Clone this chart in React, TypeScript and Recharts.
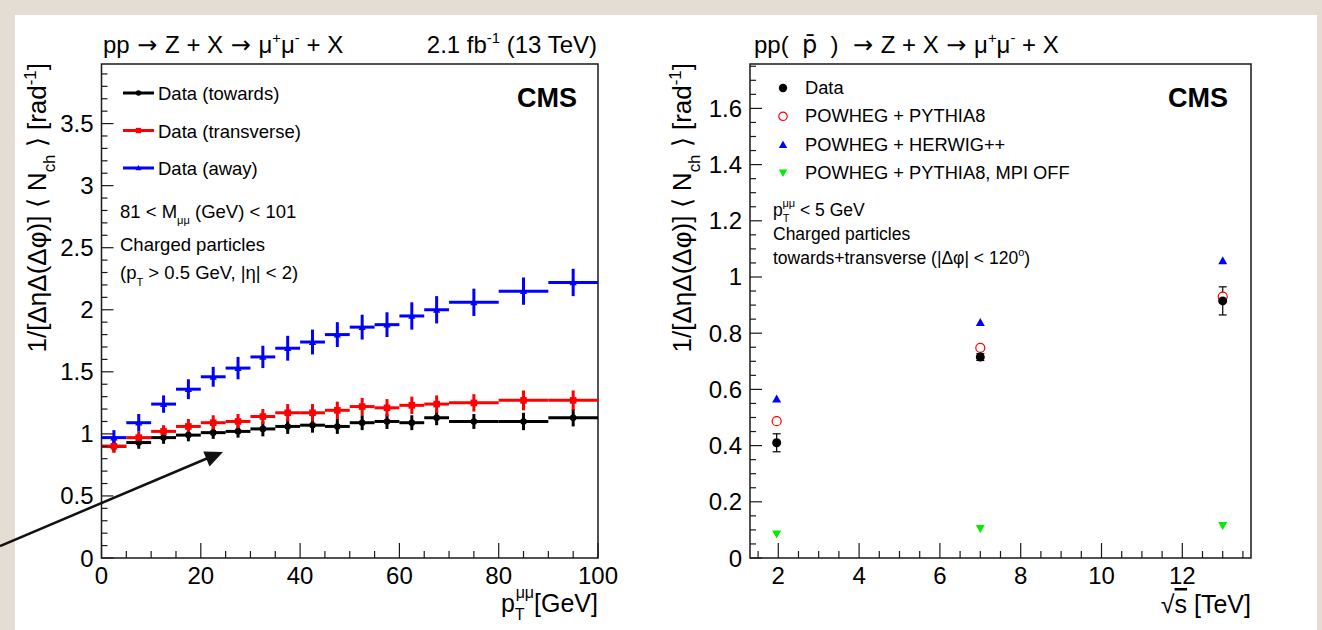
import React from "react";
import { ScatterChart, Scatter, XAxis, YAxis, ErrorBar, ReferenceArea, Legend } from "recharts";

const FONT = '"Liberation Sans", Arial, Helvetica, sans-serif';
const BEIGE = "#e4ddd3";
const AXIS = "#1a1a1a";
const BLACK = "#000000";
const RED = "#ff0000";
const BLUE = "#0000ff";
const GREEN = "#00ee00";

// left panel: <N_ch> density vs pT(mumu), bins of 5 GeV then 10 GeV
const PT_CENTER = [2.5, 7.5, 12.5, 17.5, 22.5, 27.5, 32.5, 37.5, 42.5, 47.5, 52.5, 57.5, 62.5, 67.5, 75, 85, 95];
const PT_HALF = [2.5, 2.5, 2.5, 2.5, 2.5, 2.5, 2.5, 2.5, 2.5, 2.5, 2.5, 2.5, 2.5, 2.5, 5, 5, 5];
const TOWARDS = [0.9, 0.93, 0.97, 0.99, 1.01, 1.02, 1.04, 1.06, 1.07, 1.06, 1.09, 1.1, 1.09, 1.13, 1.1, 1.1, 1.13];
const TOWARDS_ERR = [0.05, 0.05, 0.05, 0.05, 0.05, 0.05, 0.06, 0.06, 0.06, 0.06, 0.06, 0.06, 0.06, 0.06, 0.06, 0.07, 0.07];
const TRANSVERSE = [0.9, 0.97, 1.02, 1.06, 1.09, 1.1, 1.14, 1.17, 1.17, 1.19, 1.22, 1.21, 1.23, 1.24, 1.25, 1.27, 1.27];
const TRANSVERSE_ERR = [0.05, 0.05, 0.05, 0.06, 0.06, 0.06, 0.06, 0.07, 0.07, 0.07, 0.07, 0.07, 0.07, 0.07, 0.07, 0.08, 0.08];
const AWAY = [0.97, 1.09, 1.24, 1.36, 1.46, 1.53, 1.62, 1.69, 1.74, 1.8, 1.86, 1.88, 1.95, 2.0, 2.06, 2.15, 2.22];
const AWAY_ERR = [0.06, 0.07, 0.07, 0.08, 0.08, 0.09, 0.09, 0.1, 0.1, 0.1, 0.1, 0.1, 0.11, 0.11, 0.11, 0.11, 0.11];

// right panel: vs sqrt(s)
const SQRT_S = [1.96, 7, 13];
const DATA = [0.41, 0.715, 0.915];
const DATA_ERR = [0.032, 0.012, 0.05];
const POWHEG_PY8 = [0.487, 0.748, 0.93];
const POWHEG_HW = [0.566, 0.838, 1.058];
const POWHEG_PY8_NOMPI = [0.085, 0.105, 0.115];

// axes
const LEFT_X_MAJOR = [0, 20, 40, 60, 80, 100];
const LEFT_Y_MAJOR = [0, 0.5, 1, 1.5, 2, 2.5, 3, 3.5];
const RIGHT_X_MAJOR = [2, 4, 6, 8, 10, 12];
const RIGHT_Y_MAJOR = [0, 0.2, 0.4, 0.6, 0.8, 1, 1.2, 1.4, 1.6];

const steps = (from: number, to: number, step: number) => {
  const out: number[] = [];
  for (let v = from; v <= to + 1e-9; v += step) out.push(Math.round(v * 1000) / 1000);
  return out;
};
const LEFT_X_TICKS = steps(0, 100, 5);
const LEFT_Y_TICKS = steps(0, 3.9, 0.1);
const RIGHT_X_TICKS = steps(1.5, 13.5, 0.5);
const RIGHT_Y_TICKS = steps(0, 1.75, 0.05);

const isMajor = (majors: number[], v: number) => majors.some((m) => Math.abs(m - v) < 1e-6);

const xTick = (majors: number[]) => (p: any) => {
  const v = p.payload.value;
  const maj = isMajor(majors, v);
  return (
    <g>
      <line x1={p.x} x2={p.x} y1={p.y} y2={p.y - (maj ? 15 : 7)} stroke={AXIS} strokeWidth={1.2} />
      {maj && (
        <text x={p.x} y={p.y + 26} textAnchor="middle" fontSize={24} fontFamily={FONT} fill="#000">
          {String(v)}
        </text>
      )}
    </g>
  );
};

const yTick = (majors: number[]) => (p: any) => {
  const v = p.payload.value;
  const maj = isMajor(majors, v);
  return (
    <g>
      <line x1={p.x} x2={p.x + (maj ? 12 : 6)} y1={p.y} y2={p.y} stroke={AXIS} strokeWidth={1.2} />
      {maj && (
        <text x={p.x - 8} y={p.y + 8.5} textAnchor="end" fontSize={24} fontFamily={FONT} fill="#000">
          {String(v)}
        </text>
      )}
    </g>
  );
};

function marker(kind: string, cx: number, cy: number, color: string, s: number) {
  if (kind === "circle") return <circle cx={cx} cy={cy} r={s} fill={color} />;
  if (kind === "open") return <circle cx={cx} cy={cy} r={s} fill="#fff" stroke={color} strokeWidth={1.2} />;
  if (kind === "square") return <rect x={cx - s} y={cy - s} width={2 * s} height={2 * s} fill={color} />;
  if (kind === "triangle")
    return <polygon points={`${cx - s},${cy + s * 0.8} ${cx + s},${cy + s * 0.8} ${cx},${cy - s}`} fill={color} />;
  return <polygon points={`${cx - s},${cy - s * 0.8} ${cx + s},${cy - s * 0.8} ${cx},${cy + s}`} fill={color} />;
}

const shape = (kind: string, color: string, s: number) => (p: any) => marker(kind, p.cx, p.cy, color, s);

const LEFT_SERIES = [
  { label: "Data (towards)", color: BLACK, kind: "circle", size: 3.3, values: TOWARDS, errs: TOWARDS_ERR },
  { label: "Data (transverse)", color: RED, kind: "square", size: 3.3, values: TRANSVERSE, errs: TRANSVERSE_ERR },
  { label: "Data (away)", color: BLUE, kind: "triangle", size: 3.6, values: AWAY, errs: AWAY_ERR },
];

const RIGHT_SERIES = [
  { label: "Data", color: BLACK, kind: "circle", size: 4.5, values: DATA },
  { label: "POWHEG + PYTHIA8", color: RED, kind: "open", size: 4.5, values: POWHEG_PY8 },
  { label: "POWHEG + HERWIG++", color: BLUE, kind: "triangle", size: 4.5, values: POWHEG_HW },
  { label: "POWHEG + PYTHIA8, MPI OFF", color: GREEN, kind: "down", size: 4.5, values: POWHEG_PY8_NOMPI },
];

function LeftLegend() {
  return (
    <svg width={240} height={120} style={{ overflow: "visible" }}>
      {LEFT_SERIES.map((s, i) => {
        const y = 18 + i * 37.5;
        return (
          <g key={s.label}>
            <line x1={0} x2={31} y1={y} y2={y} stroke={s.color} strokeWidth={3} />
            {marker(s.kind, 15.5, y, s.color, s.size * 0.8)}
            <text x={35} y={y + 7} fontSize={18.5} fontFamily={FONT} fill="#000">
              {s.label}
            </text>
          </g>
        );
      })}
    </svg>
  );
}

function RightLegend() {
  return (
    <svg width={320} height={120} style={{ overflow: "visible" }}>
      {RIGHT_SERIES.map((s, i) => {
        const y = 18 + i * 28.3;
        return (
          <g key={s.label}>
            {marker(s.kind, 10, y, s.color, 4.2)}
            <text x={32} y={y + 6} fontSize={18.3} fontFamily={FONT} fill="#000">
              {s.label}
            </text>
          </g>
        );
      })}
    </svg>
  );
}

function LeftPanel() {
  const ymax = 3.98;
  return (
    <ScatterChart width={640} height={615} margin={{ top: 49, right: 57, bottom: 32, left: 0 }}>
      <XAxis
        type="number"
        dataKey="x"
        domain={[0, 100]}
        allowDataOverflow
        ticks={LEFT_X_TICKS}
        interval={0}
        tickSize={0}
        tickMargin={0}
        axisLine={false}
        tickLine={false}
        height={40}
        tick={xTick(LEFT_X_MAJOR)}
      />
      <YAxis
        type="number"
        dataKey="y"
        domain={[0, ymax]}
        allowDataOverflow
        ticks={LEFT_Y_TICKS}
        interval={0}
        tickSize={0}
        tickMargin={0}
        axisLine={false}
        tickLine={false}
        width={86.5}
        tick={yTick(LEFT_Y_MAJOR)}
      />
      <ReferenceArea x1={0} x2={100} y1={0} y2={ymax} fill="none" stroke={AXIS} strokeWidth={1.5} ifOverflow="visible" />
      {LEFT_SERIES.map((s) => (
        <Scatter
          key={s.label}
          name={s.label}
          data={PT_CENTER.map((x, i) => ({ x, y: s.values[i], ex: PT_HALF[i], ey: s.errs[i] }))}
          shape={shape(s.kind, s.color, s.size)}
          isAnimationActive={false}
        >
          <ErrorBar dataKey="ex" direction="x" width={0} stroke={s.color} strokeWidth={3} />
          <ErrorBar dataKey="ey" direction="y" width={0} stroke={s.color} strokeWidth={3} />
        </Scatter>
      ))}
      <Legend
        layout="vertical"
        align="center"
        verticalAlign="middle"
        content={() => <LeftLegend />}
        wrapperStyle={{ left: 108, top: 60, width: 240, height: 120 }}
      />
    </ScatterChart>
  );
}

function RightPanel() {
  const ymax = 1.758;
  return (
    <ScatterChart width={650} height={615} margin={{ top: 49, right: 59, bottom: 32, left: 0 }}>
      <XAxis
        type="number"
        dataKey="x"
        domain={[1.3, 13.7]}
        allowDataOverflow
        ticks={RIGHT_X_TICKS}
        interval={0}
        tickSize={0}
        tickMargin={0}
        axisLine={false}
        tickLine={false}
        height={40}
        tick={xTick(RIGHT_X_MAJOR)}
      />
      <YAxis
        type="number"
        dataKey="y"
        domain={[0, ymax]}
        allowDataOverflow
        ticks={RIGHT_Y_TICKS}
        interval={0}
        tickSize={0}
        tickMargin={0}
        axisLine={false}
        tickLine={false}
        width={90}
        tick={yTick(RIGHT_Y_MAJOR)}
      />
      <ReferenceArea x1={1.3} x2={13.7} y1={0} y2={ymax} fill="none" stroke={AXIS} strokeWidth={1.5} ifOverflow="visible" />
      {RIGHT_SERIES.slice(1).reverse().map((s) => (
        <Scatter
          key={s.label}
          name={s.label}
          data={SQRT_S.map((x, i) => ({ x, y: s.values[i] }))}
          shape={shape(s.kind, s.color, s.size)}
          isAnimationActive={false}
        />
      ))}
      <Scatter
        name="Data"
        data={SQRT_S.map((x, i) => ({ x, y: DATA[i], ey: DATA_ERR[i] }))}
        shape={shape("circle", BLACK, 4.5)}
        isAnimationActive={false}
      >
        <ErrorBar dataKey="ey" direction="y" width={4} stroke={BLACK} strokeWidth={1.2} />
      </Scatter>
      <Legend
        layout="vertical"
        align="center"
        verticalAlign="middle"
        content={() => <RightLegend />}
        wrapperStyle={{ left: 113, top: 55, width: 320, height: 120 }}
      />
    </ScatterChart>
  );
}

function YTitle({ x }: { x: number }) {
  const f = 26;
  return (
    <text transform={`translate(${x},63) rotate(-90)`} textAnchor="end" fontSize={f} fontFamily={FONT} fill="#000">
      <tspan>1/[ΔηΔ(Δφ)] ⟨ N</tspan>
      <tspan fontSize={f * 0.65} dy={f * 0.35}>ch</tspan>
      <tspan dy={-f * 0.35}> ⟩ [rad</tspan>
      <tspan fontSize={f * 0.65} dy={-f * 0.4}>-1</tspan>
      <tspan dy={f * 0.4}>]</tspan>
    </text>
  );
}

const Arrow = () => <tspan fontFamily='"DejaVu Sans", sans-serif'> → </tspan>;

function Overlay() {
  const t = 24;
  const a = 18.5;
  const nb = "\u00a0";
  return (
    <svg width={1322} height={630} style={{ position: "absolute", left: 0, top: 0, pointerEvents: "none" }}>
      <g fontFamily={FONT} fill="#000">
        {/* left panel headers */}
        <text x={103} y={53} fontSize={t}>
          <tspan>pp</tspan>
          <Arrow />
          <tspan>Z + X</tspan>
          <Arrow />
          <tspan>μ</tspan>
          <tspan fontSize={t * 0.62} dy={-t * 0.42}>+</tspan>
          <tspan dy={t * 0.42}>μ</tspan>
          <tspan fontSize={t * 0.62} dy={-t * 0.42}>-</tspan>
          <tspan dy={t * 0.42}> + X</tspan>
        </text>
        <text x={597} y={53} fontSize={t} textAnchor="end">
          <tspan>2.1 fb</tspan>
          <tspan fontSize={t * 0.62} dy={-t * 0.42}>-1</tspan>
          <tspan dy={t * 0.42}> (13 TeV)</tspan>
        </text>
        <text x={577} y={107} fontSize={27} fontWeight="bold" textAnchor="end">CMS</text>
        <text x={120} y={218} fontSize={a}>
          <tspan>81 &lt; M</tspan>
          <tspan fontSize={a * 0.6} dy={a * 0.3}>μμ</tspan>
          <tspan dy={-a * 0.3}> (GeV) &lt; 101</tspan>
        </text>
        <text x={120} y={251} fontSize={a}>Charged particles</text>
        <text x={120} y={279} fontSize={a}>
          <tspan>(p</tspan>
          <tspan fontSize={a * 0.6} dy={a * 0.4}>T</tspan>
          <tspan dy={-a * 0.4}> &gt; 0.5 GeV, |η| &lt; 2)</tspan>
        </text>
        <YTitle x={46} />
        <text x={598} y={612} fontSize={25} textAnchor="end">
          <tspan>p</tspan>
          <tspan fontSize={16} dy={8}>T</tspan>
          <tspan fontSize={16} dx={-9} dy={-22}>μμ</tspan>
          <tspan dy={14}>[GeV]</tspan>
        </text>

        {/* right panel headers */}
        <text x={754} y={53} fontSize={t}>
          <tspan>{`pp(${nb}${nb}`}</tspan>
          <tspan fontFamily='"DejaVu Sans", sans-serif'>{"p\u0304"}</tspan>
          <tspan>{`${nb}${nb})${nb}`}</tspan>
          <Arrow />
          <tspan>Z + X</tspan>
          <Arrow />
          <tspan>μ</tspan>
          <tspan fontSize={t * 0.62} dy={-t * 0.42}>+</tspan>
          <tspan dy={t * 0.42}>μ</tspan>
          <tspan fontSize={t * 0.62} dy={-t * 0.42}>-</tspan>
          <tspan dy={t * 0.42}> + X</tspan>
        </text>
        <text x={1228} y={107} fontSize={27} fontWeight="bold" textAnchor="end">CMS</text>
        <text x={773} y={216} fontSize={17.5}>
          <tspan>p</tspan>
          <tspan fontSize={11} dy={6}>T</tspan>
          <tspan fontSize={11} dx={-7} dy={-15}>μμ</tspan>
          <tspan dy={9}> &lt; 5 GeV</tspan>
        </text>
        <text x={773} y={240} fontSize={17.5}>Charged particles</text>
        <text x={773} y={264} fontSize={17.5}>
          <tspan>towards+transverse (|Δφ| &lt; 120</tspan>
          <tspan fontSize={11} dy={-8}>o</tspan>
          <tspan dy={8}>)</tspan>
        </text>
        <YTitle x={691} />
        <text x={1251} y={613} fontSize={25} textAnchor="end">
          <tspan>√</tspan>
          <tspan textDecoration="overline">s</tspan>
          <tspan> [TeV]</tspan>
        </text>

        {/* hand-drawn pointer arrow */}
        <line x1={0} y1={546} x2={208} y2={458} stroke="#111" strokeWidth={2.5} />
        <polygon points="223,452 209.5,466.4 203.3,451.6" fill="#111" />
      </g>
    </svg>
  );
}

export default function App() {
  return (
    <div style={{ position: "absolute", left: 0, top: 0, width: 1322, height: 630, background: BEIGE, overflow: "hidden" }}>
      <div style={{ position: "absolute", left: 15, top: 15, width: 1302, height: 615, background: "#fff" }} />
      <div style={{ position: "absolute", left: 15, top: 15 }}>
        <LeftPanel />
      </div>
      <div style={{ position: "absolute", left: 660, top: 15 }}>
        <RightPanel />
      </div>
      <Overlay />
    </div>
  );
}
